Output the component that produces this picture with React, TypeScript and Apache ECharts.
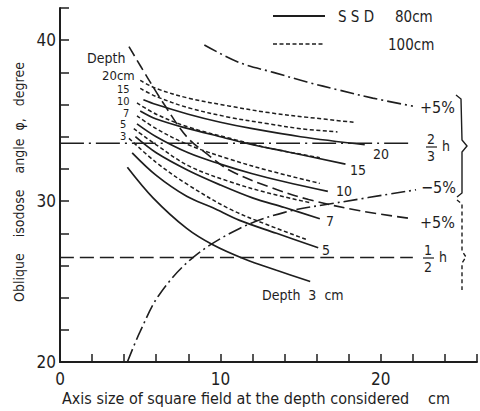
import React, { useEffect, useRef } from "react";
import * as echarts from "echarts";

// ---- data (x: field size cm, y: oblique isodose angle degree) ----
const xLabels = [0, 10, 20];
const yLabels = [20, 30, 40];

// SSD 80 cm (solid)
const solid3 = [[4.2, 32.1], [5.8, 30.2], [7.9, 28.3], [9.5, 27.3], [11.5, 26.4], [13.5, 25.7], [15.6, 25.0]];
const solid5 = [[4.5, 33.0], [6.0, 31.6], [7.9, 30.3], [9.5, 29.6], [11.2, 28.8], [13.5, 28.0], [16.1, 27.1]];
const solid7 = [[4.7, 34.0], [6.0, 33.0], [8.0, 31.9], [10.0, 31.0], [12.0, 30.2], [14.0, 29.6], [16.2, 28.9]];
const solid10 = [[4.8, 34.8], [6.0, 34.0], [8.0, 33.0], [10.0, 32.3], [12.0, 31.7], [14.0, 31.2], [16.7, 30.6]];
const solid15 = [[5.0, 35.6], [6.0, 35.1], [8.0, 34.5], [10.0, 34.0], [12.0, 33.5], [14.0, 33.1], [17.8, 32.3]];
const solid20 = [[5.2, 36.3], [6.0, 36.0], [8.0, 35.4], [10.0, 34.9], [12.0, 34.5], [15.0, 34.0], [19.0, 33.5]];

// SSD 100 cm (short dashes)
const dot3 = [[4.3, 33.9], [6.0, 32.4], [8.0, 31.0], [10.6, 29.5], [13.0, 28.5], [15.4, 27.6]];
const dot5 = [[4.6, 34.5], [6.0, 33.5], [8.0, 32.2], [10.6, 31.2], [13.0, 30.5], [15.6, 29.9]];
const dot7 = [[4.8, 35.3], [6.0, 34.5], [8.0, 33.5], [10.6, 32.6], [13.0, 31.9], [16.2, 31.1]];
const dot10 = [[4.8, 36.1], [6.0, 35.4], [8.0, 34.6], [10.6, 33.9], [13.0, 33.3], [16.2, 32.7]];
const dot15 = [[5.0, 37.0], [6.0, 36.5], [8.0, 35.8], [10.6, 35.2], [13.0, 34.8], [15.0, 34.5], [17.3, 34.3]];
const dot20 = [[5.0, 37.5], [6.0, 37.0], [8.0, 36.4], [10.6, 35.9], [13.0, 35.5], [15.5, 35.2], [18.3, 34.9]];

// reference lines and tolerance curves
const twoThirdsH = [[0, 33.6], [22.0, 33.6]];
const halfH = [[0, 26.5], [22.0, 26.5]];
const plus5Upper = [[9.0, 39.7], [11.2, 38.6], [13.3, 38.0], [15.4, 37.4], [17.4, 36.9], [19.5, 36.4], [22.0, 35.9]];
const minus5 = [[4.2, 20.0], [5.0, 21.9], [6.2, 24.2], [8.3, 26.5], [11.2, 28.3], [14.0, 29.3], [17.3, 29.9], [22.2, 30.7]];
const plus5Lower = [[4.3, 39.6], [5.5, 37.6], [6.5, 36.0], [7.9, 34.0], [9.2, 32.9], [10.6, 31.9], [13.0, 30.9], [15.5, 30.1], [18.7, 29.4], [22.0, 28.9]];

const INK = "#1e1e1e";
const FONT = "'Liberation Sans Narrow','DejaVu Sans Condensed',sans-serif";

const SOLID = "solid";
const DOT = [4, 2.5];
const DASH = [11, 5];
const DASH_LONG = [14, 6];
const DASH_DOT = [14, 4, 2, 4];
const DASH_DOT_LONG = [24, 5, 2, 5];

function lineSeries(name: string, data: number[][], type: any, width = 1.6) {
  return {
    name,
    type: "line",
    data,
    smooth: 0.35,
    showSymbol: false,
    symbol: "none",
    silent: true,
    lineStyle: { color: INK, width, type },
  };
}

function txt(text: string, x: number, y: number, size = 14, align = "left", extra: any = {}) {
  return {
    type: "text",
    x,
    y,
    style: {
      text,
      fill: INK,
      font: `${size}px ${FONT}`,
      textAlign: align,
      textVerticalAlign: "middle",
      ...extra,
    },
  };
}

function ln(x1: number, y1: number, x2: number, y2: number, dash: any = null, w = 1.5) {
  return {
    type: "line",
    shape: { x1, y1, x2, y2 },
    style: { stroke: INK, lineWidth: w, lineDash: dash },
  };
}

export default function App() {
  const ref = useRef<HTMLDivElement>(null);
  useEffect(() => {
    if (!ref.current) return;
    const chart = echarts.init(ref.current, null, { renderer: "svg" });
    chart.setOption({
      animation: false,
      backgroundColor: "#ffffff",
      grid: { left: 60, top: 8, width: 417, height: 354, containLabel: false },
      xAxis: {
        type: "value",
        min: 0,
        max: 26,
        interval: 2,
        axisLine: { lineStyle: { color: INK, width: 2 } },
        axisTick: { inside: true, length: 8, lineStyle: { color: INK, width: 1.5 } },
        splitLine: { show: false },
        axisLabel: {
          color: INK,
          fontSize: 17,
          fontFamily: FONT,
          margin: 8,
          formatter: (v: number) => (xLabels.includes(v) ? String(v) : ""),
        },
      },
      yAxis: {
        type: "value",
        min: 20,
        max: 42,
        interval: 2,
        axisLine: { show: true, lineStyle: { color: INK, width: 2 } },
        axisTick: { show: true, inside: true, length: 9, lineStyle: { color: INK, width: 1.5 } },
        splitLine: { show: false },
        axisLabel: {
          color: INK,
          fontSize: 17,
          fontFamily: FONT,
          margin: 4,
          formatter: (v: number) => (yLabels.includes(v) ? String(v) : ""),
        },
      },
      series: [
        lineSeries("80cm d3", solid3, SOLID, 1.7),
        lineSeries("80cm d5", solid5, SOLID, 1.7),
        lineSeries("80cm d7", solid7, SOLID, 1.7),
        lineSeries("80cm d10", solid10, SOLID, 1.7),
        lineSeries("80cm d15", solid15, SOLID, 1.7),
        lineSeries("80cm d20", solid20, SOLID, 1.7),
        lineSeries("100cm d3", dot3, DOT, 1.5),
        lineSeries("100cm d5", dot5, DOT, 1.5),
        lineSeries("100cm d7", dot7, DOT, 1.5),
        lineSeries("100cm d10", dot10, DOT, 1.5),
        lineSeries("100cm d15", dot15, DOT, 1.5),
        lineSeries("100cm d20", dot20, DOT, 1.5),
        lineSeries("2/3 h", twoThirdsH, DASH_DOT_LONG, 1.5),
        lineSeries("1/2 h", halfH, DASH_LONG, 1.5),
        lineSeries("+5% upper", plus5Upper, DASH_DOT, 1.6),
        lineSeries("-5%", minus5, DASH_DOT, 1.6),
        lineSeries("+5% lower", plus5Lower, DASH, 1.6),
      ],
      graphic: [
        // legend
        ln(273, 16, 325, 16, null, 1.8),
        txt("S S D", 338, 17, 15),
        txt("80cm", 395, 17, 15),
        ln(273, 44, 325, 44, DOT, 1.6),
        txt("100cm", 388, 45, 15),
        // left depth labels
        txt("Depth", 87, 58, 14),
        txt("20cm", 102, 75, 13),
        txt("15", 117, 89, 11),
        txt("10", 117, 101, 11),
        txt("7", 123, 113, 11),
        txt("5", 120, 124, 11),
        txt("3", 120, 136, 11),
        // right depth labels
        txt("20", 373, 154, 14),
        txt("15", 350, 170, 14),
        txt("10", 336, 191, 14),
        txt("7", 326, 221, 14),
        txt("5", 322, 250, 14),
        txt("Depth  3  cm", 262, 295, 14),
        // right side annotations
        txt("+5%", 420, 107, 16),
        txt("2", 431, 139, 14, "center"),
        ln(426, 147, 437, 147, null, 1.2),
        txt("3", 431, 156, 14, "center"),
        txt("h", 442, 146, 14),
        txt("\u22125%", 421, 187, 16),
        txt("+5%", 420, 222, 16),
        txt("1", 428, 250, 14, "center"),
        ln(423, 258, 434, 258, null, 1.2),
        txt("2", 428, 267, 14, "center"),
        txt("h", 439, 257, 14),
        // braces
        {
          type: "polyline",
          shape: { points: [[456, 95], [461, 99], [462, 140], [467, 146], [462, 152], [462, 193], [457, 197]] },
          style: { stroke: INK, lineWidth: 1.4, fill: null },
        },
        {
          type: "polyline",
          shape: { points: [[457, 200], [462, 204], [462, 251], [466, 257], [462, 263], [462, 290]] },
          style: { stroke: INK, lineWidth: 1.4, fill: null, lineDash: [4, 3] },
        },
        // axis titles
        txt("Axis size of square field at the depth considered", 62, 398, 16),
        txt("cm", 428, 398, 16),
        {
          type: "text",
          x: 19,
          y: 182,
          rotation: Math.PI / 2,
          style: {
            text: "Oblique    isodose    angle  \u03c6,   degree",
            fill: INK,
            font: `14px ${FONT}`,
            textAlign: "center",
            textVerticalAlign: "middle",
          },
        },
      ],
    });
    return () => chart.dispose();
  }, []);
  return (
    <div
      ref={ref}
      style={{ position: "fixed", left: 0, top: 0, width: 480, height: 411, background: "#fff" }}
    />
  );
}
